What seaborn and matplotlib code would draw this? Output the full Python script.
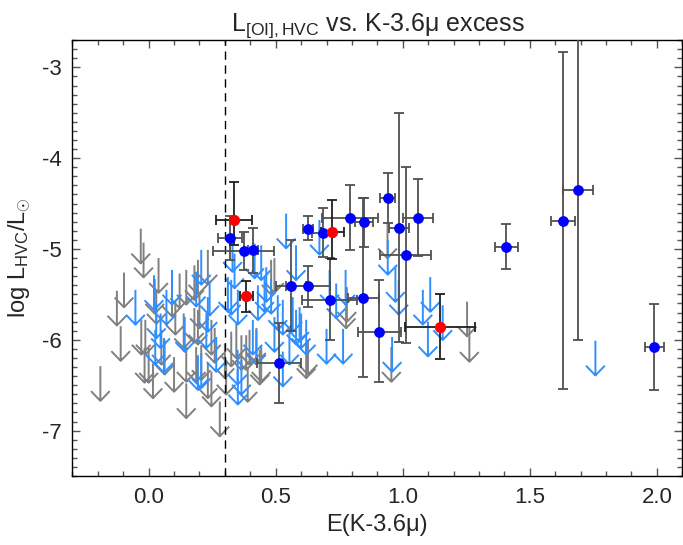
import numpy as np
import pandas as pd
import matplotlib
matplotlib.use("Agg")
import matplotlib.pyplot as plt
from matplotlib.path import Path
import seaborn as sns

# ---- data -------------------------------------------------------------
# detections (blue)
blue_x = [0.321, 0.375, 0.410, 0.627, 0.686, 0.793, 0.847, 0.940, 0.984, 1.060,
          1.011, 0.561, 0.627, 0.712, 0.845, 0.908, 0.514, 1.408, 1.631, 1.690, 1.989]
blue_y = [-4.879, -5.020, -5.014, -4.776, -4.820, -4.660, -4.707, -4.443, -4.765, -4.663,
          -5.070, -5.407, -5.407, -5.560, -5.545, -5.910, -6.260, -4.974, -4.688, -4.355, -6.080]
blue_ylo = [-5.12, -5.23, -5.26, -4.905, -5.09, -5.014, -4.978, -4.718, -6.02, -5.08,
            -6.03, -5.90, -5.64, -6.00, -6.41, -6.47, -6.70, -5.226, -6.545, -6.003, -6.553]
blue_yhi = [-4.64, -4.81, -4.765, -4.64, -4.553, -4.30, -4.44, -4.168, -3.50, -4.234,
            -4.10, -4.905, -5.19, -5.10, -4.44, -5.34, -5.82, -4.72, -2.835, -2.60, -5.61]
blue_xerr = [0.047, 0.12, 0.02, 0.02, 0.045, 0.11, 0.035, 0.03, 0.04, 0.058,
             0.10, 0.06, 0.085, 0.107, 0.06, 0.085, 0.087, 0.046, 0.048, 0.06, 0.037]

# detections (red)
red_x = [0.337, 0.385, 0.722, 1.146]
red_y = [-4.677, -5.520, -4.816, -5.857]
red_ylo = [-4.96, -5.69, -5.114, -6.215]
red_yhi = [-4.26, -5.35, -4.456, -5.50]
red_xerr = [0.07, 0.025, 0.045, 0.137]

# upper limits (gray)
gray_x = [-0.031, -0.020, -0.097, -0.125, -0.110, -0.190, 0.039, 0.024, 0.030, -0.029,
          -0.013, -0.016, 0.000, 0.017, 0.050, 0.063, 0.092, 0.105, 0.122, 0.100,
          0.138, 0.148, 0.180, 0.148, 0.148, 0.187, 0.180, 0.233, 0.194, 0.200,
          0.194, 0.247, 0.260, 0.207, 0.233, 0.247, 0.280, 0.300, 0.305, 0.325,
          0.345, 0.365, 0.384, 0.390, 0.397, 0.424, 0.437, 0.482, 0.495, 0.620,
          0.940, 0.777, 0.627, 0.955, 1.253, 1.262, 0.780, 0.443]
gray_y = [-4.776, -4.93, -5.26, -5.46, -5.85, -6.29, -5.10, -5.33, -5.44, -5.78,
          -5.78, -6.09, -6.09, -6.26, -5.89, -6.00, -5.36, -5.56, -5.27, -6.19,
          -5.71, -5.23, -5.18, -6.48, -6.08, -6.08, -5.65, -5.01, -5.12, -5.49,
          -5.67, -5.78, -5.87, -6.06, -6.26, -6.35, -6.68, -6.04, -6.22, -5.91,
          -5.82, -5.95, -5.95, -6.30, -5.89, -5.87, -6.11, -5.12, -5.10, -6.04,
          -4.72, -5.49, -6.00, -6.08, -5.58, -5.86, -5.42, -6.08]

# upper limits (light blue)
lblue_x = [-0.052, 0.021, 0.030, 0.047, 0.026, 0.060, 0.092, 0.070, 0.142, 0.187,
           0.194, 0.207, 0.233, 0.227, 0.207, 0.266, 0.338, 0.312, 0.351, 0.365,
           0.417, 0.443, 0.456, 0.430, 0.482, 0.508, 0.528, 0.495, 0.554, 0.580,
           0.600, 0.528, 0.424, 0.351, 0.240, 0.541, 0.580, 0.672, 0.712, 0.775,
           0.738, 0.567, 0.594, 0.620, 0.700, 0.765, 0.941, 0.971, 0.984, 1.079,
           1.108, 1.099, 1.157, 0.958, 1.758, 0.330, 0.350, 0.325, 0.410, 0.463]
lblue_y = [-5.45, -5.29, -5.60, -5.71, -5.89, -5.98, -5.23, -5.45, -5.75, -5.25,
           -6.17, -5.01, -5.53, -5.71, -6.15, -5.97, -5.05, -5.31, -5.45, -6.22,
           -4.94, -4.96, -5.31, -5.40, -5.33, -5.51, -5.56, -5.75, -5.89, -5.67,
           -5.71, -6.13, -5.89, -6.33, -5.35, -4.61, -4.96, -4.68, -5.23, -5.23,
           -5.38, -5.53, -5.64, -5.78, -5.88, -5.88, -4.90, -5.20, -5.34, -5.45,
           -5.31, -5.80, -5.62, -5.97, -6.01, -4.87, -6.11, -5.34, -5.78, -5.20]

x_ticks = [0.0, 0.5, 1.0, 1.5, 2.0]
y_ticks = [-7, -6, -5, -4, -3]
threshold = 0.3

# ---- style -------------------------------------------------------------
sns.set_style("ticks")
plt.rcParams["font.family"] = ["Liberation Sans", "DejaVu Sans"]
plt.rcParams["mathtext.fontset"] = "custom"
plt.rcParams["mathtext.rm"] = "Liberation Sans"
plt.rcParams["mathtext.it"] = "Liberation Sans"
plt.rcParams["mathtext.bf"] = "Liberation Sans"

fig = plt.figure(figsize=(6.83, 5.45), dpi=100)
ax = fig.add_axes([0.106, 0.1266, 0.893, 0.7998])

# arrow marker: top of the stem at the data point
verts = [(0, 0), (0, -1), (-0.27, -0.72), (0, -1), (0.27, -0.72)]
codes = [Path.MOVETO, Path.LINETO, Path.MOVETO, Path.LINETO, Path.LINETO]
arrow = Path(verts, codes)

gray_df = pd.DataFrame({"x": gray_x, "y": gray_y})
lblue_df = pd.DataFrame({"x": lblue_x, "y": lblue_y})
sns.scatterplot(data=gray_df, x="x", y="y", marker=arrow, s=2500,
                facecolors="none", edgecolor="#808080", color="#808080",
                linewidth=1.4, ax=ax, zorder=2)
sns.scatterplot(data=lblue_df, x="x", y="y", marker=arrow, s=2500,
                facecolors="none", edgecolor="#2f8fff", color="#2f8fff",
                linewidth=1.4, ax=ax, zorder=3)

ax.axvline(threshold, color="black", linestyle=(0, (6, 4)), linewidth=1.0, zorder=4)

def errs(y, lo, hi):
    y = np.asarray(y); lo = np.asarray(lo); hi = np.asarray(hi)
    return [y - lo, hi - y]

ax.errorbar(blue_x, blue_y, yerr=errs(blue_y, blue_ylo, blue_yhi), xerr=blue_xerr,
            fmt="none", ecolor="#505050", elinewidth=1.3, capsize=3.5,
            capthick=1.3, zorder=5)
ax.errorbar(red_x, red_y, yerr=errs(red_y, red_ylo, red_yhi), xerr=red_xerr,
            fmt="none", ecolor="#202020", elinewidth=1.3, capsize=3.5,
            capthick=1.3, zorder=5)

sns.scatterplot(x=blue_x, y=blue_y, color="#0000ff", edgecolor="#0000ff",
                s=60, marker="o", linewidth=0, ax=ax, zorder=6)
sns.scatterplot(x=red_x, y=red_y, color="#ff0000", edgecolor="#ff0000",
                s=65, marker="o", linewidth=0, ax=ax, zorder=7)

ax.set_xlim(-0.3, 2.1)
ax.set_ylim(-7.5, -2.7)
ax.set_xticks(x_ticks)
ax.set_xticklabels([f"{t:.1f}" for t in x_ticks])
ax.set_yticks(y_ticks)
ax.set_yticklabels([f"{t:d}" for t in y_ticks])
ax.xaxis.set_minor_locator(matplotlib.ticker.MultipleLocator(0.1))
ax.yaxis.set_minor_locator(matplotlib.ticker.MultipleLocator(0.1))
ax.tick_params(which="both", direction="in", top=True, right=True,
               color="#555555", labelsize=16)
ax.tick_params(which="major", length=6, width=1.0, pad=8)
ax.tick_params(which="minor", length=3.4, width=1.0)
for sp in ax.spines.values():
    sp.set_linewidth(1.0)
    sp.set_color("black")

ax.set_xlabel("E(K-3.6μ)", fontsize=17, labelpad=4)
ax.set_ylabel(r"log L$_{\rm HVC}$/L$_{\odot}$", fontsize=17, labelpad=6)
ax.set_title(r"L$_{\rm [OI],HVC}$" + " vs. K-3.6μ excess", fontsize=18, pad=6)

fig.savefig("out.png", dpi=100)
